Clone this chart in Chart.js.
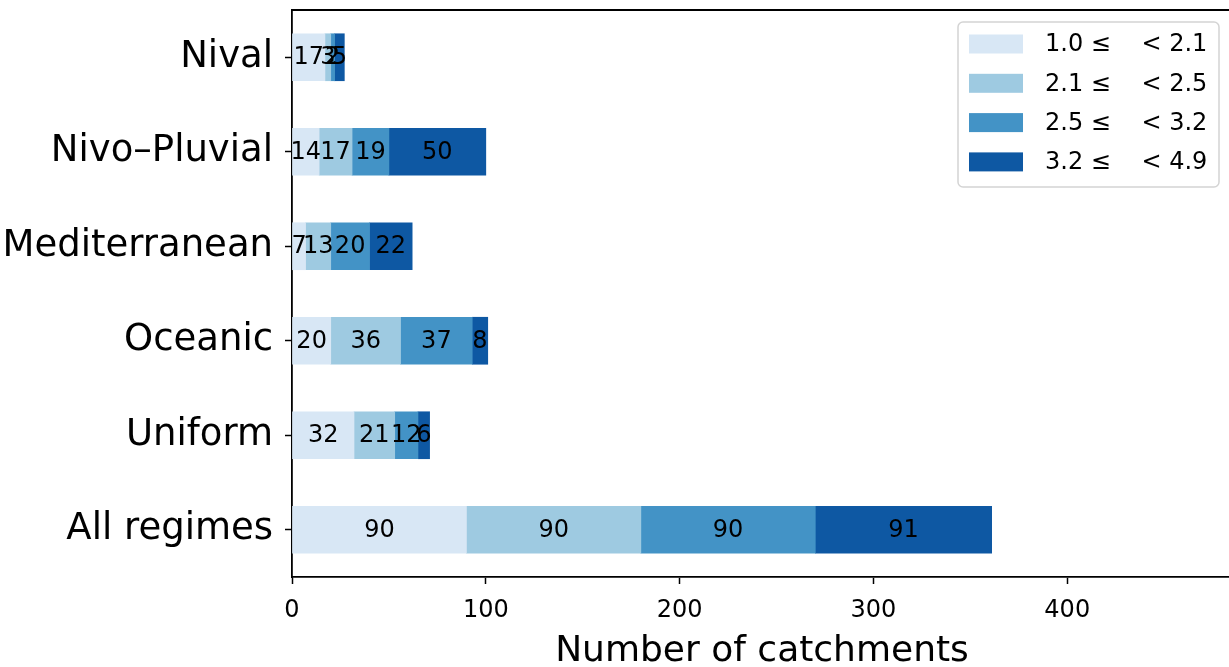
<!DOCTYPE html>
<html>
<head>
<meta charset="utf-8">
<script src="https://cdn.jsdelivr.net/npm/chart.js@4.4.0/dist/chart.umd.min.js"></script>
<style>
  html, body { margin: 0; padding: 0; overflow: hidden; background: #fff; }
  #wrap { width: 1240px; height: 667px; position: relative; }
</style>
</head>
<body>
<div id="wrap"><canvas id="regimes-chart"></canvas></div>
<script>
// regimenes y clases
var regimenes = ['Nival', 'Nivo\u2013Pluvial', 'Mediterranean', 'Oceanic', 'Uniform', 'All regimes'];
var limiteInferior = ['1.0', '2.1', '2.5', '3.2'];
var limiteSuperior = ['2.1', '2.5', '3.2', '4.9'];

// numero de cuencas por clase
var clase1 = [17, 14, 7, 20, 32, 90];
var clase2 = [3, 17, 13, 36, 21, 90];
var clase3 = [2, 19, 20, 37, 12, 90];
var clase4 = [5, 50, 22, 8, 6, 91];

var colores = ['#d8e7f5', '#9ecae1', '#4393c6', '#0e58a3'];
var ticksX = [0, 100, 200, 300, 400];

Chart.defaults.font.family = 'DejaVu Sans';
Chart.defaults.color = '#000';

var series = [clase1, clase2, clase3, clase4];
var datasets = series.map(function (vals, i) {
    return {
        label: limiteInferior[i] + ' \u2264    < ' + limiteSuperior[i],
        data: vals,
        backgroundColor: colores[i],
        borderWidth: 0,
        barThickness: 47
    };
});

// etiquetas dentro de las barras
var etiquetasBarras = {
    id: 'etiquetasBarras',
    afterDatasetsDraw: function (chart) {
        var ctx = chart.ctx;
        ctx.save();
        ctx.font = '24px "DejaVu Sans"';
        ctx.fillStyle = '#000';
        ctx.textAlign = 'center';
        ctx.textBaseline = 'middle';
        chart.data.datasets.forEach(function (ds, i) {
            chart.getDatasetMeta(i).data.forEach(function (bar, j) {
                var p = bar.getProps(['x', 'y', 'base'], true);
                ctx.fillText(String(ds.data[j]), (p.x + p.base) / 2, p.y + 1);
            });
        });
        ctx.restore();
    }
};

// marco y leyenda
var marcoLeyenda = {
    id: 'marcoLeyenda',
    afterDraw: function (chart) {
        var ctx = chart.ctx;
        var a = chart.chartArea;
        ctx.save();
        ctx.strokeStyle = '#000';
        ctx.lineWidth = 1.8;
        ctx.beginPath();
        ctx.moveTo(a.left, a.top);
        ctx.lineTo(a.right, a.top);
        ctx.lineTo(a.right, a.bottom);
        ctx.stroke();

        // leyenda
        var x0 = 958, y0 = 22, w = 261, h = 165;
        ctx.beginPath();
        ctx.roundRect(x0, y0, w, h, 5);
        ctx.fillStyle = 'rgba(255,255,255,0.8)';
        ctx.fill();
        ctx.strokeStyle = '#d4d4d4';
        ctx.lineWidth = 1.5;
        ctx.stroke();
        ctx.font = '24px "DejaVu Sans"';
        ctx.textBaseline = 'middle';
        ctx.textAlign = 'left';
        chart.data.datasets.forEach(function (ds, i) {
            var cy = 44 + i * 39.3;
            ctx.fillStyle = ds.backgroundColor;
            ctx.fillRect(969, cy - 9.5, 54, 19);
            ctx.fillStyle = '#000';
            ctx.fillText(ds.label, 1045, cy + 1);
        });
        ctx.restore();
    }
};

var ctx = document.getElementById('regimes-chart').getContext('2d');
new Chart(ctx, {
    type: 'bar',
    data: { labels: regimenes, datasets: datasets },
    options: {
        indexAxis: 'y',
        responsive: true,
        maintainAspectRatio: false,
        animation: false,
        layout: { padding: { top: 10, right: 8, left: 0, bottom: 0 } },
        scales: {
            x: {
                stacked: true,
                min: 0,
                max: 485,
                afterBuildTicks: function (scale) {
                    scale.ticks = ticksX.map(function (v) { return { value: v }; });
                },
                afterFit: function (scale) { scale.height = 90; scale.paddingLeft = 0; scale.paddingRight = 0; },
                grid: { drawOnChartArea: false, drawTicks: true, tickLength: 7, tickWidth: 1.5, tickColor: '#000' },
                border: { color: '#000', width: 1.8 },
                ticks: { font: { size: 24 }, padding: 12, maxRotation: 0 },
                title: { display: true, text: 'Number of catchments', font: { size: 36 }, padding: { top: 0, bottom: -6 } }
            },
            y: {
                stacked: true,
                afterFit: function (scale) { scale.width = 292; scale.paddingTop = 0; scale.paddingBottom = 0; },
                grid: { drawOnChartArea: false, drawTicks: true, tickLength: 7, tickWidth: 1.5, tickColor: '#000', offset: false },
                border: { color: '#000', width: 1.8 },
                ticks: { font: { size: 37 }, padding: 12 }
            }
        },
        plugins: {
            legend: { display: false },
            tooltip: { enabled: false }
        }
    },
    plugins: [etiquetasBarras, marcoLeyenda]
});
</script>
</body>
</html>
